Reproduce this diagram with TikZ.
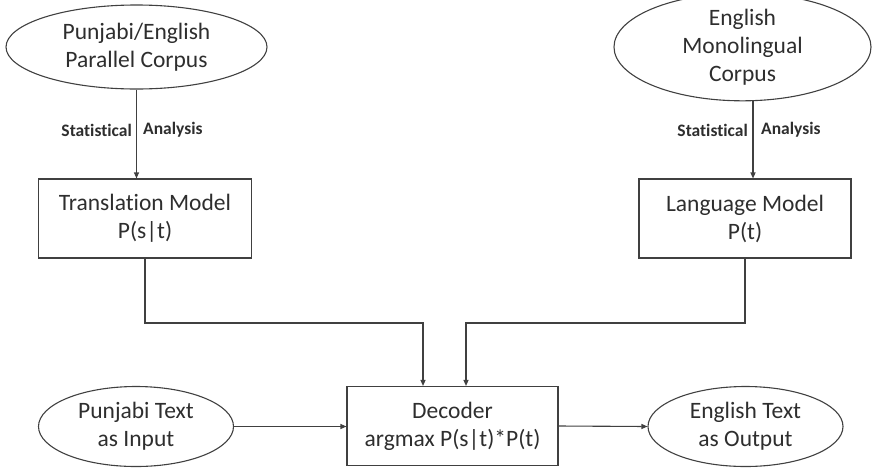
\documentclass[tikz,border=0pt]{standalone}
\usepackage{fontspec}
\setmainfont{Carlito}[Ligatures=NoCommon]
\usetikzlibrary{shapes.geometric,arrows.meta}
\definecolor{ln}{HTML}{404040}
\definecolor{tx}{HTML}{2E2E2E}
\tikzset{
  base/.style={draw=ln, line width=1.1pt, text=tx, align=center, inner sep=0pt,
    font=\fontsize{23.5}{28}\selectfont},
  oval/.style={base, ellipse},
  box/.style={base, rectangle},
  arr/.style={draw=ln, line width=1.1pt, -{Triangle[length=6pt,width=5pt]}},
  lbl/.style={text=tx, inner sep=0pt, font=\bfseries\fontsize{17.5}{18}\selectfont},
}
\begin{document}
\begin{tikzpicture}[x=1pt,y=-1pt]
\useasboundingbox (0,0) rectangle (872,469);
\node[oval, minimum width=261, minimum height=84] (pc) at (136.5,47) {Punjabi/English\\Parallel Corpus};
\node[oval, minimum width=257, minimum height=84] (mc) at (742.5,47) {English\\Monolingual\\Corpus};
\node[box, minimum width=213, minimum height=79] (tm) at (145,218.5) {Translation Model\\P(s|t)};
\node[box, minimum width=212, minimum height=79] (lm) at (745,218.5) {Language Model\\P(t)};
\node[box, minimum width=211, minimum height=79] (dec) at (452.5,426) {Decoder\\argmax P(s|t)*P(t)};
\node[oval, minimum width=195, minimum height=80] (pi) at (136,426.5) {Punjabi Text\\as Input};
\node[oval, minimum width=195, minimum height=80] (eo) at (745.5,426.5) {English Text\\as Output};
\coordinate (a2) at (753,0);
\draw[arr] (pc.south) -- (pc.south |- tm.north);
\draw[arr] (a2 |- mc.south) -- (a2 |- lm.north);
\node[lbl, anchor=east] (s1) at (132,130) {Statistical};
\node[lbl, anchor=west] (n1) at (143,130) {Analysis};
\node[lbl, anchor=east] (s2) at (748,130) {Statistical};
\node[lbl, anchor=west] (n2) at (761,130) {Analysis};
\coordinate (j1) at (423,323);
\coordinate (j2) at (466,323);
\draw[arr] (tm.south) |- (j1) -- (j1 |- dec.north);
\draw[arr] (lm.south) |- (j2) -- (j2 |- dec.north);
\draw[arr] (pi.east) -- (pi.east -| dec.west);
\draw[arr] (dec.east) -- (eo.west);
\end{tikzpicture}
\end{document}
